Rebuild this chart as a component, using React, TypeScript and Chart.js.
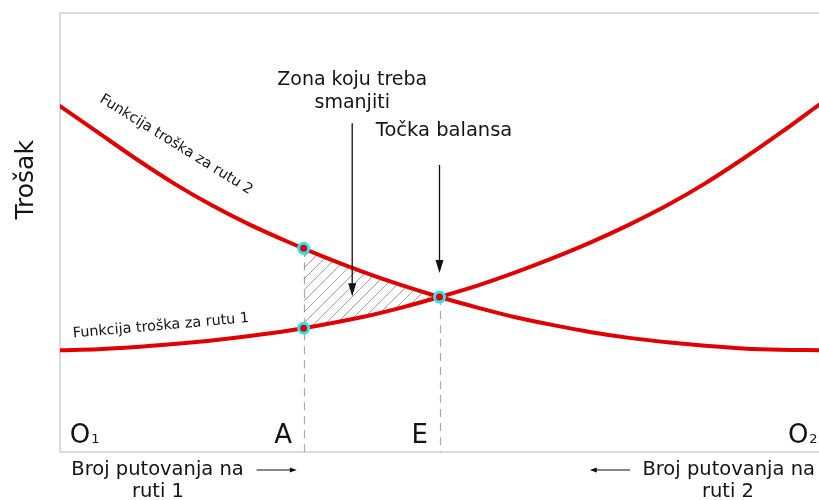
import React, { useEffect, useRef } from "react";
import { Chart, registerables } from "chart.js";

Chart.register(...registerables);

// Share of trips (0 = O1 ... 100 = O2)
const xValues = [0, 5, 10, 15, 20, 25, 30, 35, 40, 45, 50, 55, 60, 65, 70, 75, 80, 85, 90, 95, 100];
const route1Cost = [23.2, 23.4, 23.9, 24.6, 25.4, 26.4, 27.6, 29.1, 30.8, 32.9, 35.3, 37.9, 40.9, 44.2, 47.8, 51.8, 56.2, 61.2, 66.8, 72.8, 79.1];
const route2Cost = [78.8, 72.8, 66.8, 61.2, 56.2, 51.8, 47.9, 44.3, 41.0, 38.0, 35.3, 32.9, 30.7, 28.9, 27.3, 26.0, 25.0, 24.2, 23.6, 23.3, 23.2];

// Hatched zone between A and E
const zoneX = [32.1, 35, 40, 45, 50];
const zoneUpper = [46.4, 44.3, 41.0, 38.0, 35.3];
const zoneLower = [28.2, 29.1, 30.8, 32.9, 35.3];

// Marked points (A on both curves, E balance)
const markerX = [32.1, 32.1, 50];
const markerY = [46.4, 28.2, 35.3];

// Dashed drop lines
const dropX = [32.1, 50];
const dropTop = [46.4, 35.3];

// Axis letters
const letterText = ["O", "A", "E", "O"];
const letterSub = ["1", "", "", "2"];
const letterX = [1.3, 29.4, 47.4, 95.9];
const letterAlign = ["left", "center", "center", "left"];

const zoneLabel = ["Zona koju treba", "smanjiti"];
const balanceLabel = "Točka balansa";
const route1Label = "Funkcija troška za rutu 1";
const route2Label = "Funkcija troška za rutu 2";
const yTitle = "Trošak";
const bottomLeft = ["Broj putovanja na", "ruti 1"];
const bottomRight = ["Broj putovanja na", "ruti 2"];

const RED = "#e00000";
const CYAN = "#30e4ee";
const FONT = "'DejaVu Sans', Verdana, sans-serif";

function makeHatch(): CanvasPattern | string {
  const s = 11;
  const c = document.createElement("canvas");
  c.width = s;
  c.height = s;
  const g = c.getContext("2d");
  if (!g) return "rgba(0,0,0,0.1)";
  g.strokeStyle = "#8a8a8a";
  g.lineWidth = 0.8;
  g.beginPath();
  g.moveTo(0, s);
  g.lineTo(s, 0);
  g.moveTo(-2, 2);
  g.lineTo(2, -2);
  g.moveTo(s - 2, s + 2);
  g.lineTo(s + 2, s - 2);
  g.stroke();
  const p = g.createPattern(c, "repeat");
  return p || "rgba(0,0,0,0.1)";
}

function arrowDown(ctx: CanvasRenderingContext2D, x: number, y1: number, y2: number) {
  ctx.save();
  ctx.strokeStyle = "#111";
  ctx.fillStyle = "#111";
  ctx.lineWidth = 1.3;
  ctx.beginPath();
  ctx.moveTo(x, y1);
  ctx.lineTo(x, y2 - 10);
  ctx.stroke();
  ctx.beginPath();
  ctx.moveTo(x, y2);
  ctx.lineTo(x - 4, y2 - 13);
  ctx.lineTo(x + 4, y2 - 13);
  ctx.closePath();
  ctx.fill();
  ctx.restore();
}

function arrowH(ctx: CanvasRenderingContext2D, xTail: number, xTip: number, y: number) {
  const dir = xTip > xTail ? 1 : -1;
  ctx.save();
  ctx.strokeStyle = "#111";
  ctx.fillStyle = "#111";
  ctx.lineWidth = 1;
  ctx.beginPath();
  ctx.moveTo(xTail, y);
  ctx.lineTo(xTip - dir * 5, y);
  ctx.stroke();
  ctx.beginPath();
  ctx.moveTo(xTip, y);
  ctx.lineTo(xTip - dir * 7, y - 2.5);
  ctx.lineTo(xTip - dir * 7, y + 2.5);
  ctx.closePath();
  ctx.fill();
  ctx.restore();
}

const overlay = {
  id: "overlay",
  beforeDatasetsDraw(chart: any) {
    const { ctx, chartArea } = chart;
    const xs = chart.scales.x;
    const ys = chart.scales.y;
    ctx.save();
    ctx.strokeStyle = "#cfcfcf";
    ctx.lineWidth = 1.5;
    ctx.beginPath();
    ctx.moveTo(chartArea.left, chartArea.bottom);
    ctx.lineTo(chartArea.left, chartArea.top);
    ctx.lineTo(chartArea.right, chartArea.top);
    ctx.moveTo(chartArea.left, chartArea.bottom);
    ctx.lineTo(chartArea.right, chartArea.bottom);
    ctx.stroke();
    ctx.strokeStyle = "#a8a8a8";
    ctx.lineWidth = 1.2;
    ctx.setLineDash([8, 6]);
    for (let i = 0; i < dropX.length; i++) {
      const px = Math.round(xs.getPixelForValue(dropX[i])) + 0.5;
      ctx.beginPath();
      ctx.moveTo(px, ys.getPixelForValue(dropTop[i]));
      ctx.lineTo(px, ys.getPixelForValue(0));
      ctx.stroke();
    }
    ctx.restore();
  },
  afterDatasetsDraw(chart: any) {
    const { ctx } = chart;
    const xs = chart.scales.x;
    const ys = chart.scales.y;
    const X = (v: number) => xs.getPixelForValue(v);
    const Y = (v: number) => ys.getPixelForValue(v);

    arrowDown(ctx, X(38.5), Y(74.9), Y(35.5));
    arrowDown(ctx, X(50), Y(65.4), Y(40.8));
    arrowH(ctx, X(25.9), X(31.2), Y(-4.1));
    arrowH(ctx, X(75.1), X(69.8), Y(-4.1));

    ctx.save();
    ctx.fillStyle = "#141414";
    ctx.textBaseline = "middle";
    ctx.textAlign = "center";

    ctx.font = `19px ${FONT}`;
    ctx.fillText(zoneLabel[0], X(38.5), Y(84.7));
    ctx.fillText(zoneLabel[1], X(38.5), Y(79.5));
    ctx.font = `19.5px ${FONT}`;
    ctx.fillText(balanceLabel, X(50.6), Y(73.1));

    ctx.fillText(bottomLeft[0], X(12.85), Y(-4.1));
    ctx.fillText(bottomLeft[1], X(12.9), Y(-9.1));
    ctx.fillText(bottomRight[0], X(88.1), Y(-4.1));
    ctx.fillText(bottomRight[1], X(88.0), Y(-9.1));

    // y title
    ctx.save();
    ctx.font = `25px ${FONT}`;
    ctx.translate(X(-4.35), Y(62.0));
    ctx.rotate(-Math.PI / 2);
    ctx.fillText(yTitle, 0, 0);
    ctx.restore();

    // curve labels
    ctx.font = `14.4px ${FONT}`;
    ctx.save();
    ctx.translate(X(15.3), Y(70.0));
    ctx.rotate((31.8 * Math.PI) / 180);
    ctx.fillText(route2Label, 0, 0);
    ctx.restore();
    ctx.save();
    ctx.translate(X(13.3), Y(28.7));
    ctx.rotate((-5 * Math.PI) / 180);
    ctx.fillText(route1Label, 0, 0);
    ctx.restore();

    // axis letters
    ctx.textBaseline = "alphabetic";
    for (let i = 0; i < letterText.length; i++) {
      ctx.font = `26px ${FONT}`;
      ctx.textAlign = letterAlign[i] as CanvasTextAlign;
      const bx = X(letterX[i]);
      const by = Y(2.05);
      ctx.fillText(letterText[i], bx, by);
      if (letterSub[i]) {
        const w = ctx.measureText(letterText[i]).width;
        ctx.font = `13px ${FONT}`;
        ctx.textAlign = "left";
        ctx.fillText(letterSub[i], bx + w + 1, by);
      }
    }
    ctx.restore();
  },
};

export default function App() {
  const ref = useRef<HTMLCanvasElement | null>(null);
  useEffect(() => {
    if (!ref.current) return;
    const hatch = makeHatch();
    const pts = (xa: number[], ya: number[]) => xa.map((x, i) => ({ x, y: ya[i] }));
    const chart = new Chart(ref.current, {
      type: "line",
      data: {
        datasets: [
          {
            data: pts(zoneX, zoneUpper),
            borderWidth: 0,
            borderColor: "rgba(0,0,0,0)",
            pointRadius: 0,
            backgroundColor: hatch as any,
            fill: 1,
            cubicInterpolationMode: "monotone",
            order: 10,
          },
          {
            data: pts(zoneX, zoneLower),
            borderWidth: 0,
            borderColor: "rgba(0,0,0,0)",
            pointRadius: 0,
            fill: false,
            cubicInterpolationMode: "monotone",
            order: 9,
          },
          {
            data: pts(xValues, route1Cost),
            borderColor: RED,
            borderWidth: 4,
            pointRadius: 0,
            fill: false,
            cubicInterpolationMode: "monotone",
            borderCapStyle: "round",
            order: 5,
          },
          {
            data: pts(xValues, route2Cost),
            borderColor: RED,
            borderWidth: 4,
            pointRadius: 0,
            fill: false,
            cubicInterpolationMode: "monotone",
            borderCapStyle: "round",
            order: 4,
          },
          {
            data: pts(markerX, markerY),
            showLine: false,
            pointRadius: 5,
            pointBorderWidth: 3,
            pointBorderColor: CYAN,
            pointBackgroundColor: RED,
            fill: false,
            order: 0,
          },
        ],
      },
      options: {
        animation: false,
        responsive: false,
        devicePixelRatio: 1,
        layout: { autoPadding: false, padding: { left: 60, top: 13, right: 0, bottom: 48 } },
        plugins: { legend: { display: false }, tooltip: { enabled: false } },
        events: [],
        scales: {
          x: { type: "linear", min: 0, max: 100, display: false },
          y: { type: "linear", min: 0, max: 100, display: false },
        },
      },
      plugins: [overlay],
    } as any);
    return () => chart.destroy();
  }, []);
  return (
    <div style={{ position: "fixed", left: 0, top: 0, width: 819, height: 500, background: "#fff" }}>
      <canvas ref={ref} width={819} height={500} style={{ width: 819, height: 500, display: "block" }} />
    </div>
  );
}
